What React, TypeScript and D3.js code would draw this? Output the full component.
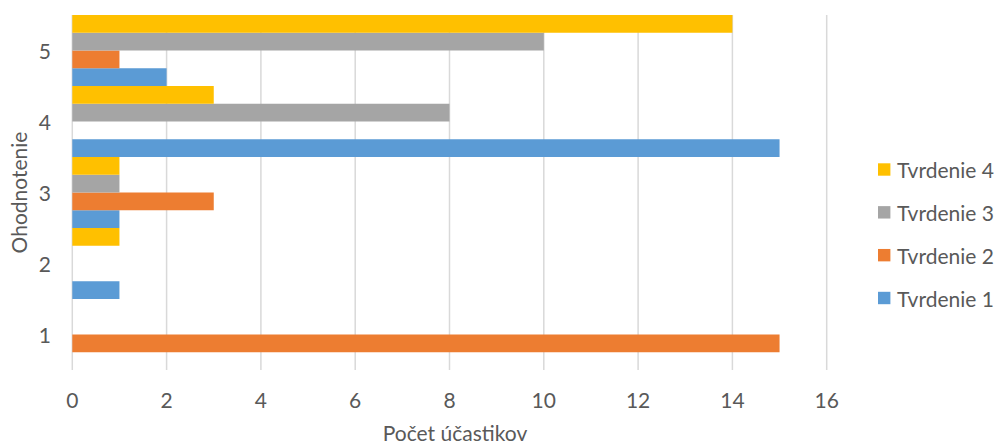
import React from "react";
import * as d3 from "d3";

const categories = ["1", "2", "3", "4", "5"];
const seriesNames = ["Tvrdenie 1", "Tvrdenie 2", "Tvrdenie 3", "Tvrdenie 4"];
const tvrdenie1 = [0, 1, 1, 15, 2];
const tvrdenie2 = [15, 0, 3, 0, 1];
const tvrdenie3 = [0, 0, 1, 8, 10];
const tvrdenie4 = [0, 1, 1, 3, 14];
const xTicks = [0, 2, 4, 6, 8, 10, 12, 14, 16];
const colors = ["#5B9BD5", "#ED7D31", "#A5A5A5", "#FFC000"];

const W = 999;
const H = 444;
const FONT = "Lato, 'Open Sans', sans-serif";
const TEXT = "#595959";

export default function App() {
  const seriesValues = [tvrdenie1, tvrdenie2, tvrdenie3, tvrdenie4];
  const x = d3.scaleLinear().domain([0, 16]).range([72.3, 826.7]);
  const y = d3
    .scaleBand<string>()
    .domain([...categories].reverse())
    .range([15, 370])
    .paddingInner(0)
    .paddingOuter(0);
  const inner = d3
    .scaleBand<string>()
    .domain([...seriesNames].reverse())
    .range([0, y.bandwidth()])
    .padding(0);

  const legendY = d3
    .scalePoint<string>()
    .domain([...seriesNames].reverse())
    .range([169.5, 298]);

  return (
    <svg
      width={W}
      height={H}
      style={{ position: "absolute", left: 0, top: 0, background: "#fff" }}
      fontFamily={FONT}
    >
      <rect x={0} y={0} width={W} height={H} fill="#fff" />
      {xTicks.map((t) => (
        <line
          key={"g" + t}
          x1={x(t)}
          x2={x(t)}
          y1={15}
          y2={370}
          stroke="#D9D9D9"
          strokeWidth={1.5}
        />
      ))}
      {seriesNames.map((s, si) =>
        categories.map((c, ci) => {
          const v = seriesValues[si][ci];
          if (!v) return null;
          return (
            <rect
              key={s + c}
              x={x(0)}
              y={(y(c) as number) + (inner(s) as number)}
              width={x(v) - x(0)}
              height={inner.bandwidth()}
              fill={colors[si]}
            />
          );
        })
      )}
      {xTicks.map((t) => (
        <text
          key={"t" + t}
          x={x(t)}
          y={399}
          textAnchor="middle"
          dominantBaseline="central"
          fontSize={21}
          fill={TEXT}
        >
          {t}
        </text>
      ))}
      {categories.map((c) => (
        <text
          key={"c" + c}
          x={51}
          y={(y(c) as number) + y.bandwidth() / 2}
          textAnchor="end"
          dominantBaseline="central"
          fontSize={21}
          fill={TEXT}
        >
          {c}
        </text>
      ))}
      <text
        x={455}
        y={441}
        textAnchor="middle"
        fontSize={21}
        fill={TEXT}
      >
        Počet účastikov
      </text>
      <text
        transform={`translate(18, ${(15 + 370) / 2}) rotate(-90)`}
        textAnchor="middle"
        dominantBaseline="central"
        fontSize={21}
        fill={TEXT}
      >
        Ohodnotenie
      </text>
      {seriesNames.map((s, si) => (
        <g key={"l" + s} transform={`translate(878, ${legendY(s)})`}>
          <rect x={0} y={-6.2} width={12.4} height={12.4} fill={colors[si]} />
          <text
            x={19}
            y={0}
            dominantBaseline="central"
            fontSize={21}
            fill={TEXT}
          >
            {s}
          </text>
        </g>
      ))}
    </svg>
  );
}
